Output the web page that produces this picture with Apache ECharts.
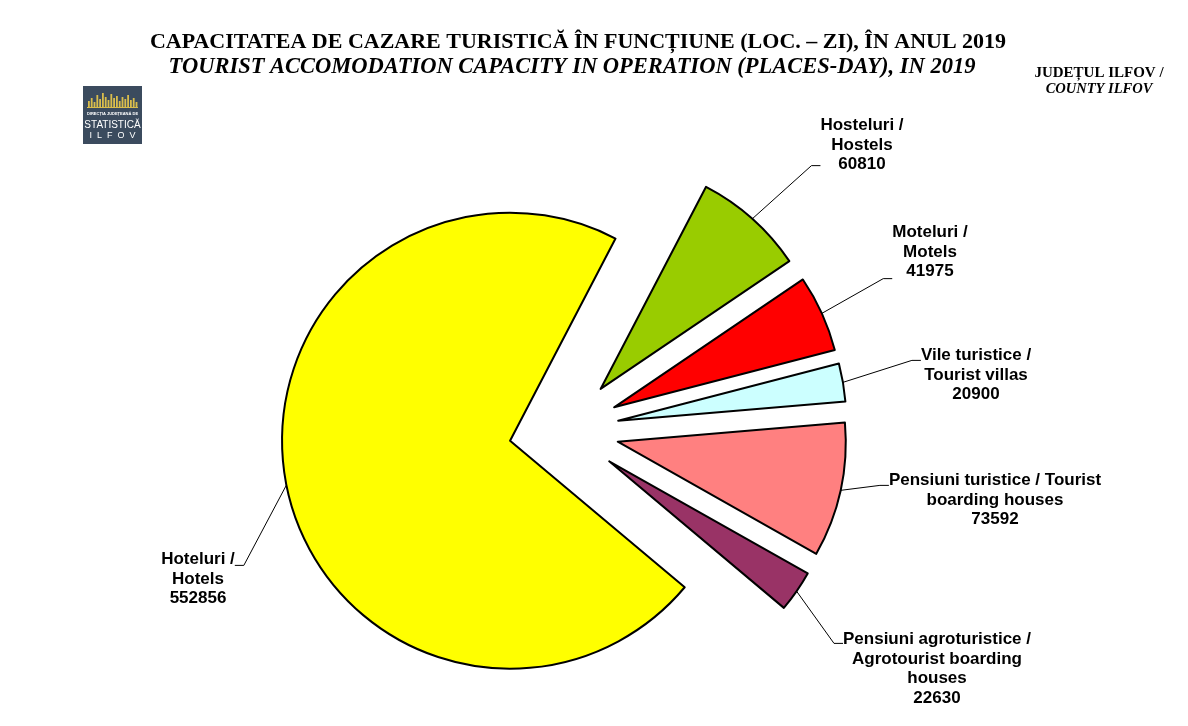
<!DOCTYPE html>
<html>
<head>
<meta charset="utf-8">
<script src="https://cdn.jsdelivr.net/npm/echarts@6/dist/echarts.min.js"></script>
<style>
html,body{margin:0;padding:0;background:#fff;}
#main{width:1188px;height:726px;}
</style>
</head>
<body>
<div id="main"></div>
<script>
const categories = [
  'Hoteluri /\nHotels',
  'Hosteluri /\nHostels',
  'Moteluri /\nMotels',
  'Vile turistice /\nTourist villas',
  'Pensiuni turistice / Tourist\nboarding houses',
  'Pensiuni agroturistice /\nAgrotourist boarding\nhouses'
];
const values = [552856, 60810, 41975, 20900, 73592, 22630];
const colors = ['#FFFF00', '#99CC00', '#FF0000', '#CCFFFF', '#FF8080', '#993366'];
// where each leader line meets its label, and blank space [above, below] the text block
const labelPos = [[198, 566], [862, 165], [930, 278], [976, 361], [995, 486], [937, 644]];
const labelSpacer = [[26, 0], [0, 40], [0, 52], [28, 0], [28, 0], [50, 0]];

const chart = echarts.init(document.getElementById('main'));

const pieCenter = [564, 430];
const pieRadius = 228;
const explode = 55;
const startAngle = -40;

// logo (decoration)
const skyline = [6, 9, 5, 12, 8, 14, 10, 7, 13, 9, 11, 6, 10, 8, 12, 7, 9, 5];
const graphics = [];
graphics.push({type: 'rect', shape: {x: 83, y: 86, width: 59, height: 58}, style: {fill: '#3b4b5e'}});
skyline.forEach((h, i) => {
  graphics.push({type: 'rect', shape: {x: 88 + i * 2.8, y: 107 - h, width: 1.8, height: h}, style: {fill: '#d9bd4c'}});
});
graphics.push({type: 'rect', shape: {x: 87, y: 107, width: 51, height: 1}, style: {fill: '#d9bd4c'}});
graphics.push({type: 'text', style: {text: 'DIRECȚIA JUDEȚEANĂ DE', x: 112.5, y: 114, fill: '#ffffff', font: 'bold 4px "Liberation Sans"', align: 'center', verticalAlign: 'middle'}});
graphics.push({type: 'text', style: {text: 'STATISTICĂ', x: 112.5, y: 125, fill: '#ffffff', font: '10px "Liberation Sans"', align: 'center', verticalAlign: 'middle'}});
graphics.push({type: 'text', style: {text: 'I  L  F  O  V', x: 112.5, y: 136, fill: '#ffffff', font: '9px "Liberation Sans"', align: 'center', verticalAlign: 'middle'}});

// titles
const titles = [
  {text: 'CAPACITATEA DE CAZARE TURISTICĂ ÎN FUNCȚIUNE (LOC. – ZI), ÎN ANUL 2019', x: 578, y: 42, font: 'bold 22px "Liberation Serif"'},
  {text: 'TOURIST ACCOMODATION CAPACITY IN OPERATION (PLACES-DAY), IN 2019', x: 572, y: 67, font: 'italic bold 22.5px "Liberation Serif"'},
  {text: 'JUDEȚUL ILFOV /', x: 1099, y: 73, font: 'bold 15px "Liberation Serif"'},
  {text: 'COUNTY ILFOV', x: 1099, y: 89, font: 'italic bold 14.5px "Liberation Serif"'}
];
titles.forEach(t => {
  graphics.push({type: 'text', style: {text: t.text, x: t.x, y: t.y, font: t.font, fill: '#000', align: 'center', verticalAlign: 'middle'}});
});

const total = values.reduce((a, b) => a + b, 0);
let cum = 0;
const series = values.map((v, k) => {
  const a0 = startAngle - 360 * cum / total;
  cum += v;
  const a1 = startAngle - 360 * cum / total;
  const mid = (a0 + a1) / 2 * Math.PI / 180;
  const sp = labelSpacer[k];
  return {
    type: 'pie',
    center: [pieCenter[0] + explode * Math.cos(mid), pieCenter[1] - explode * Math.sin(mid)],
    radius: pieRadius,
    startAngle: startAngle,
    clockwise: true,
    silent: true,
    avoidLabelOverlap: false,
    emphasis: {disabled: true},
    label: {
      show: true,
      position: 'outside',
      formatter: function (p) {
        const lines = (p.name + '\n' + p.value).split('\n').map(s => '{t|' + s + '}');
        if (sp[0] > 0) lines.unshift('{top| }');
        if (sp[1] > 0) lines.push('{bot| }');
        return lines.join('\n');
      },
      color: '#000',
      rich: {
        t: {fontFamily: 'Liberation Sans', fontWeight: 'bold', fontSize: 17, lineHeight: 19.5, color: '#000', align: 'center'},
        top: {fontSize: 1, lineHeight: sp[0], height: sp[0]},
        bot: {fontSize: 1, lineHeight: sp[1], height: sp[1]}
      }
    },
    labelLine: {show: true, length: 20, length2: 9, lineStyle: {color: '#000', width: 1}},
    labelLayout: function (p) {
      if (p.dataIndex !== k) return {};
      return {x: labelPos[k][0], y: labelPos[k][1], align: 'center', verticalAlign: 'middle'};
    },
    data: values.map((w, j) => j === k ? {
      name: categories[j],
      value: w,
      itemStyle: {color: colors[j], borderColor: '#000', borderWidth: 2}
    } : {
      name: categories[j],
      value: w,
      itemStyle: {color: 'rgba(0,0,0,0)', borderWidth: 0},
      label: {show: false},
      labelLine: {show: false}
    })
  };
});

chart.setOption({
  backgroundColor: '#ffffff',
  animation: false,
  graphic: graphics,
  series: series
});
</script>
</body>
</html>
